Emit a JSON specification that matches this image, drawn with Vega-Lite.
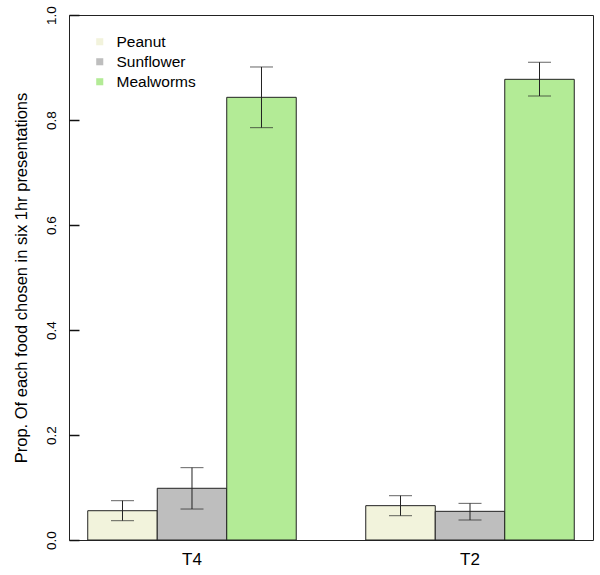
{
  "$schema": "https://vega.github.io/schema/vega-lite/v6.json",
  "autosize": {"type": "none"},
  "padding": {"left": 69, "top": 15, "right": 7, "bottom": 35},
  "width": 524,
  "height": 525,
  "config": {
    "font": "Liberation Sans",
    "view": {"stroke": "#222222", "strokeWidth": 1}
  },
  "data": {
    "values": [
      {"trial": "T4", "food": "Peanut", "mean": 0.0558, "lo": 0.0368, "hi": 0.0749},
      {"trial": "T4", "food": "Sunflower", "mean": 0.0985, "lo": 0.059, "hi": 0.1378},
      {"trial": "T4", "food": "Mealworms", "mean": 0.8432, "lo": 0.7854, "hi": 0.901},
      {"trial": "T2", "food": "Peanut", "mean": 0.0654, "lo": 0.0463, "hi": 0.0844},
      {"trial": "T2", "food": "Sunflower", "mean": 0.0546, "lo": 0.0381, "hi": 0.0698},
      {"trial": "T2", "food": "Mealworms", "mean": 0.8775, "lo": 0.8457, "hi": 0.91}
    ]
  },
  "encoding": {
    "x": {
      "field": "trial", "type": "nominal", "sort": ["T4", "T2"],
      "scale": {"paddingInner": 0.25, "paddingOuter": 0.0674},
      "axis": {"title": null, "domain": false, "ticks": false, "labelAngle": 0, "labelFontSize": 17, "labelColor": "black", "labelPadding": 11}
    },
    "xOffset": {"field": "food", "type": "nominal", "sort": ["Peanut", "Sunflower", "Mealworms"], "scale": {"paddingInner": 0, "paddingOuter": 0}},
    "y": {
      "field": "mean", "type": "quantitative",
      "scale": {"domain": [0, 1], "nice": false, "zero": true},
      "axis": {
        "title": "Prop. Of each food chosen in six 1hr presentations",
        "titleFontSize": 16.5, "titleFontWeight": "normal", "titleColor": "black", "titlePadding": 15,
        "values": [0, 0.2, 0.4, 0.6, 0.8, 1.0], "format": ".1f",
        "labelAngle": -90, "labelAlign": "center", "labelBaseline": "bottom",
        "labelFontSize": 13.5, "labelColor": "black", "labelPadding": 11,
        "offset": -10, "ticks": true, "tickSize": 10, "tickWidth": 1.5, "tickColor": "#111111",
        "domain": false, "grid": false
      }
    }
  },
  "layer": [
    {
      "mark": {"type": "bar", "stroke": "#222222", "strokeWidth": 1},
      "encoding": {
        "color": {
          "field": "food", "type": "nominal",
          "sort": ["Peanut", "Sunflower", "Mealworms"],
          "scale": {"domain": ["Peanut", "Sunflower", "Mealworms"], "range": ["#F2F3DC", "#BEBEBE", "#B3EB96"]},
          "legend": {
            "title": null, "orient": "none", "legendX": 23, "legendY": 19,
            "symbolType": "square", "symbolSize": 50, "symbolStrokeWidth": 0,
            "labelFontSize": 15.5, "labelColor": "black", "rowPadding": 3, "labelOffset": 9
          }
        }
      }
    },
    {
      "mark": {"type": "rule", "color": "#222222", "strokeWidth": 1},
      "encoding": {
        "y": {"field": "lo", "type": "quantitative"},
        "y2": {"field": "hi"}
      }
    },
    {
      "mark": {"type": "tick", "color": "#222222", "thickness": 1, "size": 23, "orient": "horizontal"},
      "encoding": {"y": {"field": "lo", "type": "quantitative"}}
    },
    {
      "mark": {"type": "tick", "color": "#222222", "thickness": 1, "size": 23, "orient": "horizontal"},
      "encoding": {"y": {"field": "hi", "type": "quantitative"}}
    }
  ]
}
